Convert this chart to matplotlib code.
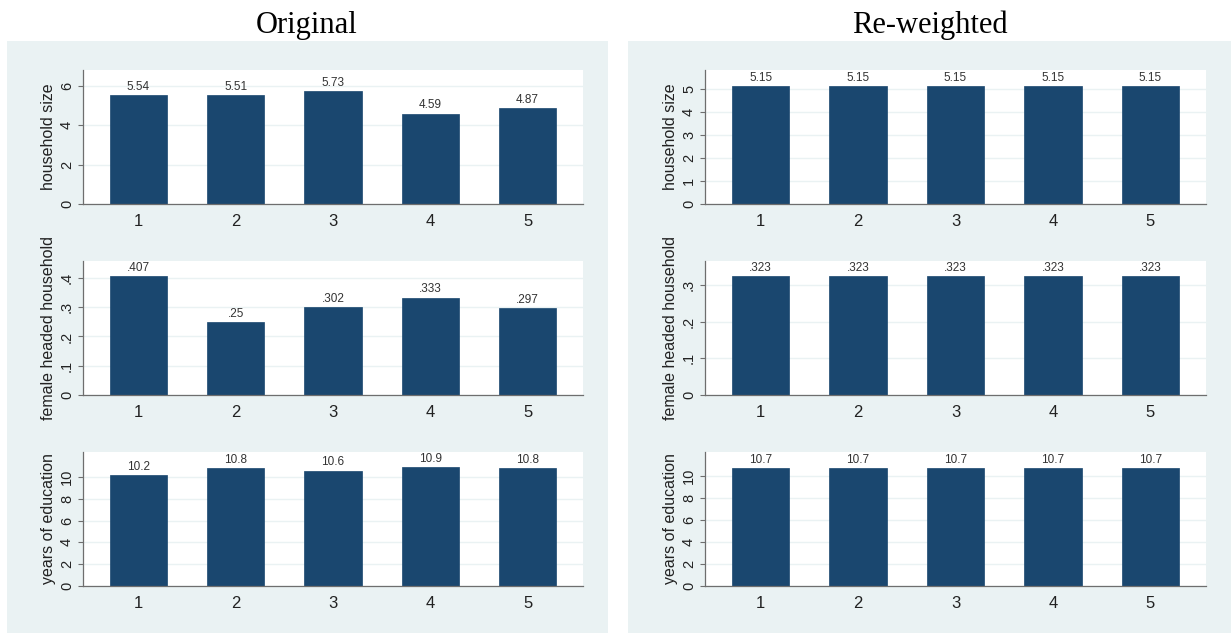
import matplotlib
matplotlib.use("Agg")
import matplotlib.pyplot as plt
from matplotlib.patches import Rectangle
import numpy as np

# group means by quintile, before and after re-weighting
groups = [1, 2, 3, 4, 5]
hh_size_orig = [5.54, 5.51, 5.73, 4.59, 4.87]
female_head_orig = [0.407, 0.25, 0.302, 0.333, 0.297]
educ_orig = [10.2, 10.8, 10.6, 10.9, 10.8]
hh_size_rw = [5.15, 5.15, 5.15, 5.15, 5.15]
female_head_rw = [0.323, 0.323, 0.323, 0.323, 0.323]
educ_rw = [10.7, 10.7, 10.7, 10.7, 10.7]

var_labels = ["household size", "female headed household", "years of education"]
panel_titles = ["Original", "Re-weighted"]

BAR = "#1a476f"
BG = "#eaf2f3"
AXIS = "#6e6e6e"

W, H = 1231, 635
fig = plt.figure(figsize=(W / 100, H / 100), dpi=100, facecolor="white")


def fx(px):
    return px / W


def fy(py):
    return 1 - py / H


# light graph region behind each column
for x0, x1 in [(7, 608), (628, 1231)]:
    fig.patches.append(Rectangle((fx(x0), fy(633)), fx(x1 - x0), (633 - 41) / H,
                                 transform=fig.transFigure, facecolor=BG,
                                 edgecolor="none", zorder=-5))


def stata_fmt(v):
    s = "{:.3g}".format(v)
    if s.startswith("0.") and len(s) > 2:
        s = s[1:]
    return s


def bar_panel(ax, values, ylabel, ymax, yticks):
    ax.bar(groups, values, width=0.59, color=BAR, edgecolor=BAR, linewidth=0.5, zorder=2)
    for g, v in zip(groups, values):
        ax.annotate(stata_fmt(v), (g, v), xytext=(0, 1.5), textcoords="offset points",
                    ha="center", va="bottom", fontsize=8.5, color="#333333",
                    family="Liberation Sans")
    ax.set_xlim(0.43, 5.57)
    ax.set_ylim(0, ymax)
    ax.set_xticks(groups)
    ax.set_xticklabels([str(g) for g in groups], fontsize=12, family="Liberation Sans",
                       color="#222222")
    ax.tick_params(axis="x", length=0, pad=7.5)
    ax.set_yticks(yticks)
    ax.set_yticklabels([stata_fmt(t) for t in yticks], rotation=90, va="center",
                       fontsize=10.5, family="Liberation Sans", color="#222222")
    ax.tick_params(axis="y", length=3.5, width=0.8, color=AXIS, pad=3)
    ax.set_ylabel(ylabel, fontsize=11.5, family="Liberation Sans", color="#222222", labelpad=3)
    ax.yaxis.grid(True, color=BG, linewidth=1.0)
    ax.set_axisbelow(True)
    for side in ["top", "right"]:
        ax.spines[side].set_visible(False)
    for side in ["left", "bottom"]:
        ax.spines[side].set_color(AXIS)
        ax.spines[side].set_linewidth(0.9)
    ax.set_facecolor("white")


rows = [(70, 204), (261, 395), (452, 586)]
cols = [(83, 583), (705, 1206)]

data = [
    [hh_size_orig, female_head_orig, educ_orig],
    [hh_size_rw, female_head_rw, educ_rw],
]
ylims = [
    [6.8, 0.458, 12.3],
    [5.83, 0.365, 12.2],
]
ticks = [
    [[0, 2, 4, 6], [0, 0.1, 0.2, 0.3, 0.4], [0, 2, 4, 6, 8, 10]],
    [[0, 1, 2, 3, 4, 5], [0, 0.1, 0.2, 0.3], [0, 2, 4, 6, 8, 10]],
]

for c, (x0, x1) in enumerate(cols):
    for r, (y0, y1) in enumerate(rows):
        ax = fig.add_axes([fx(x0), fy(y1), fx(x1 - x0), (y1 - y0) / H])
        bar_panel(ax, data[c][r], var_labels[r], ylims[c][r], ticks[c][r])

fig.text(fx(307), fy(33), panel_titles[0], ha="center", va="baseline",
         fontsize=22, family="Liberation Serif")
fig.text(fx(930), fy(33), panel_titles[1], ha="center", va="baseline",
         fontsize=22, family="Liberation Serif")

fig.savefig("out.png", dpi=100, facecolor="white")
